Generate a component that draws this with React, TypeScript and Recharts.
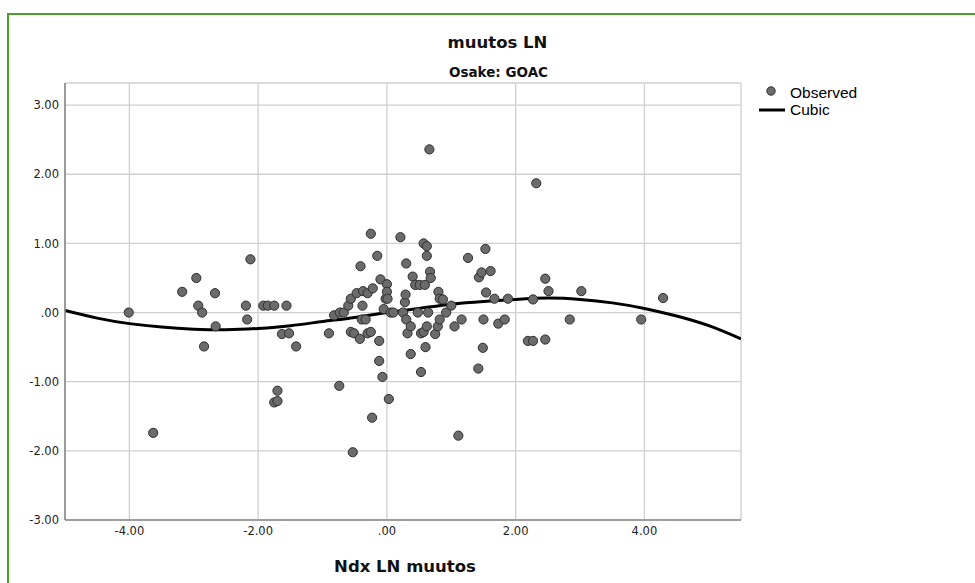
import React from "react";
import {
  ComposedChart,
  Scatter,
  Line,
  XAxis,
  YAxis,
  CartesianGrid,
} from "recharts";

// observed points (Ndx LN muutos, muutos LN)
const obsX = [
  -4.01, -3.63, -3.18, -2.96, -2.93, -2.87, -2.84, -2.67, -2.66, -2.19,
  -2.17, -2.12, -1.92, -1.85, -1.75, -1.75, -1.7, -1.7, -1.63, -1.56,
  -1.52, -1.41, -0.9, -0.82, -0.74, -0.73, -0.67, -0.6, -0.56, -0.56,
  -0.53, -0.51, -0.47, -0.42, -0.41, -0.39, -0.38, -0.37, -0.33, -0.3,
  -0.3, -0.25, -0.25, -0.23, -0.22, -0.15, -0.12, -0.12, -0.1, -0.07,
  -0.05, -0.02, 0.0, 0.0, 0.01, 0.03, 0.06, 0.1, 0.21, 0.25,
  0.28, 0.29, 0.3, 0.3, 0.32, 0.37, 0.37, 0.4, 0.44, 0.48,
  0.51, 0.53, 0.53, 0.57, 0.57, 0.59, 0.6, 0.62, 0.62, 0.62,
  0.64, 0.66, 0.67, 0.68, 0.75, 0.79, 0.8, 0.82, 0.82, 0.87,
  0.92, 1.0, 1.05, 1.11, 1.16, 1.26, 1.42, 1.43, 1.47, 1.49,
  1.5, 1.53, 1.54, 1.61, 1.67, 1.73, 1.83, 1.88, 2.19, 2.27,
  2.27, 2.32, 2.46, 2.46, 2.51, 2.84, 3.02, 3.95, 4.29,
];
const obsY = [
  0.0, -1.74, 0.3, 0.5, 0.1, 0.0, -0.49, 0.28, -0.2, 0.1,
  -0.1, 0.77, 0.1, 0.1, 0.1, -1.3, -1.28, -1.13, -0.31, 0.1,
  -0.3, -0.49, -0.3, -0.04, -1.06, 0.0, 0.0, 0.1, 0.2, -0.28,
  -2.02, -0.3, 0.28, -0.38, 0.67, -0.1, 0.1, 0.31, -0.1, -0.3,
  0.28, -0.28, 1.14, -1.52, 0.35, 0.82, -0.41, -0.7, 0.48, -0.93,
  0.05, 0.2, 0.41, 0.3, 0.2, -1.25, 0.0, 0.0, 1.09, 0.0,
  0.15, 0.26, 0.71, -0.1, -0.3, -0.2, -0.6, 0.52, 0.4, 0.0,
  0.4, -0.86, -0.3, -0.28, 1.0, 0.4, -0.5, 0.96, 0.82, -0.2,
  0.0, 2.36, 0.59, 0.5, -0.31, -0.2, 0.3, -0.1, 0.2, 0.19,
  0.0, 0.1, -0.2, -1.78, -0.1, 0.79, -0.81, 0.51, 0.58, -0.51,
  -0.1, 0.92, 0.29, 0.6, 0.2, -0.16, -0.1, 0.2, -0.41, -0.41,
  0.19, 1.87, -0.39, 0.49, 0.31, -0.1, 0.31, -0.1, 0.21,
];

// cubic fit curve
const curveX = [
  -5, -4.5, -4, -3.5, -3, -2.5, -2, -1.5, -1, -0.5, 0, 0.5, 1, 1.5, 2, 2.5,
  3, 3.5, 4, 4.5, 5, 5.5,
];
const curveY = [
  0.03, -0.08, -0.16, -0.21, -0.24, -0.25, -0.23, -0.19, -0.13, -0.07, 0.0,
  0.06, 0.12, 0.16, 0.19, 0.21, 0.19, 0.14, 0.06, -0.05, -0.19, -0.38,
];

const xTicks = [-4, -2, 0, 2, 4];
const yTicks = [-3, -2, -1, 0, 1, 2, 3];

const observed = obsX.map((x, i) => ({ x, y: obsY[i] }));
const cubic = curveX.map((x, i) => ({ x, y: curveY[i] }));

const fmt = (v: number) => (v === 0 ? ".00" : v.toFixed(2));

const tickFont = { fontSize: 11.5, fill: "#222", fontFamily: "DejaVu Sans" };

const Dot = (props: any) => {
  const { cx, cy } = props;
  return <circle cx={cx} cy={cy} r={4.6} fill="#6b6b6b" stroke="#2f2f2f" strokeWidth={1} />;
};

export default function App() {
  return (
    <div
      style={{
        position: "absolute",
        left: 0,
        top: 0,
        width: 975,
        height: 583,
        overflow: "hidden",
        background: "#fff",
        fontFamily: "DejaVu Sans",
      }}
    >
      <div
        style={{
          position: "absolute",
          left: 7,
          top: 13,
          width: 990,
          height: 600,
          border: "2px solid #4f9d2d",
        }}
      />
      <div
        style={{
          position: "absolute",
          left: 0,
          width: 995,
          top: 33,
          textAlign: "center",
          fontWeight: "bold",
          fontSize: 16.5,
          color: "#111",
        }}
      >
        muutos LN
      </div>
      <div
        style={{
          position: "absolute",
          left: 0,
          width: 997,
          top: 64,
          textAlign: "center",
          fontWeight: "bold",
          fontSize: 13.5,
          color: "#111",
        }}
      >
        Osake: GOAC
      </div>
      <div
        style={{
          position: "absolute",
          left: 0,
          width: 810,
          top: 557,
          textAlign: "center",
          fontWeight: "bold",
          fontSize: 16.5,
          color: "#111",
        }}
      >
        Ndx LN muutos
      </div>

      {/* legend */}
      <svg style={{ position: "absolute", left: 755, top: 84 }} width={35} height={32}>
        <circle cx={16} cy={7} r={4.2} fill="#6b6b6b" stroke="#2f2f2f" strokeWidth={1} />
        <line x1={4} y1={26} x2={30} y2={26} stroke="#000" strokeWidth={3} />
      </svg>
      <div
        style={{
          position: "absolute",
          left: 790,
          top: 84,
          fontFamily: "Liberation Sans",
          fontSize: 15.5,
          lineHeight: "17px",
          color: "#000",
        }}
      >
        <div>Observed</div>
        <div>Cubic</div>
      </div>

      <div style={{ position: "absolute", left: 0, top: 0 }}>
        <ComposedChart
          width={975}
          height={583}
          margin={{ top: 83, right: 234, bottom: 33, left: 0 }}
        >
          <CartesianGrid stroke="#d0d0d0" strokeWidth={1.3} />
          <XAxis
            type="number"
            dataKey="x"
            domain={[-5, 5.5]}
            ticks={xTicks}
            allowDataOverflow
            tickFormatter={fmt}
            height={30}
            tick={tickFont}
            tickLine={false}
            tickMargin={1}
            axisLine={{ stroke: "#8a8a8a", strokeWidth: 1.6 }}
          />
          <YAxis
            type="number"
            dataKey="y"
            domain={[-3, 3.32]}
            ticks={yTicks}
            allowDataOverflow
            tickFormatter={fmt}
            width={65}
            tick={tickFont}
            tickLine={false}
            tickMargin={0}
            axisLine={{ stroke: "#8a8a8a", strokeWidth: 1.6 }}
          />
          <Scatter
            data={observed}
            shape={<Dot />}
            isAnimationActive={false}
          />
          <Line
            data={cubic}
            dataKey="y"
            type="natural"
            stroke="#000"
            strokeWidth={3}
            dot={false}
            activeDot={false}
            isAnimationActive={false}
          />
        </ComposedChart>
      </div>
    </div>
  );
}
